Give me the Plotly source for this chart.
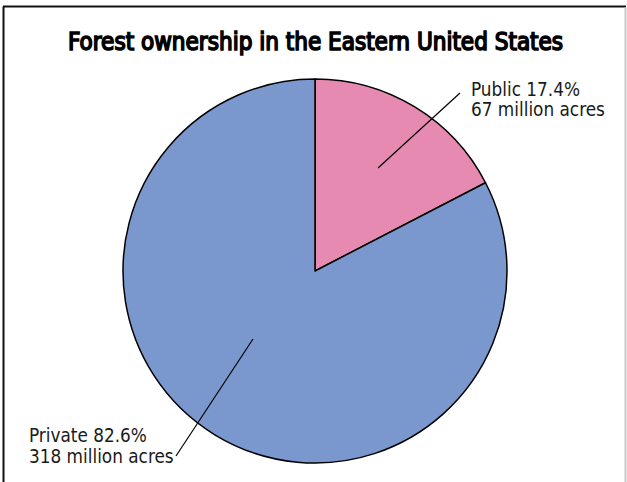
import plotly.graph_objects as go

W, H = 627, 482

categories = ["Public", "Private"]
percents = [17.4, 82.6]
acres_million = [67, 318]
colors = ["#E68AB1", "#7A98CE"]
title_text = "Forest ownership in the Eastern United States"

FONT = "DejaVu Sans"
COND = "font-stretch:condensed"


def px(x):
    return x / W


def py(y):
    return 1 - y / H


# pie geometry (pixels)
cx, cy, R = 315, 271, 192

fig = go.Figure(
    go.Pie(
        labels=categories,
        values=percents,
        sort=False,
        direction="clockwise",
        rotation=0,
        marker=dict(colors=colors, line=dict(color="#000000", width=1.5)),
        textinfo="none",
        hoverinfo="label+percent",
        showlegend=False,
        domain=dict(x=[px(cx - R), px(cx + R)], y=[py(cy + R), py(cy - R)]),
    )
)

# label placement (pixels): left x, centre y of each text line, leader line inner/outer points
label_pos = {
    "Public": dict(tx=469, ty=(89, 110), inner=(378, 168), outer=(460, 93)),
    "Private": dict(tx=27, ty=(435, 456), inner=(253, 339), outer=(176, 456)),
}

shapes = []
annotations = []
for cat, pct, ac in zip(categories, percents, acres_million):
    p = label_pos[cat]
    lines = [f"{cat} {pct}%", f"{ac} million acres"]
    for txt, yy in zip(lines, p["ty"]):
        annotations.append(
            dict(
                x=px(p["tx"]), y=py(yy), xref="paper", yref="paper",
                xanchor="left", yanchor="middle", align="left",
                text=f'<span style="{COND}">{txt}</span>', showarrow=False,
                font=dict(family=FONT, size=18.8, color="#1a1a1a"),
            )
        )
    (x0, y0), (x1, y1) = p["inner"], p["outer"]
    shapes.append(
        dict(type="line", xref="paper", yref="paper",
             x0=px(x0), y0=py(y0), x1=px(x1), y1=py(y1),
             line=dict(color="#000000", width=1.2))
    )

annotations.append(
    dict(
        x=px(315.5), y=py(41.5), xref="paper", yref="paper",
        xanchor="center", yanchor="middle",
        text=f'<span style="{COND};stroke:#000000;stroke-width:1.5px">{title_text}</span>',
        showarrow=False,
        font=dict(family=FONT, size=24, color="#000000"),
    )
)

# frame
shapes += [
    dict(type="line", xref="paper", yref="paper", x0=px(3.5), y0=py(6.5), x1=px(3.5), y1=-0.05,
         line=dict(color="#111111", width=2)),
    dict(type="line", xref="paper", yref="paper", x0=px(3), y0=py(6.5), x1=px(626), y1=py(6.5),
         line=dict(color="#111111", width=2)),
    dict(type="line", xref="paper", yref="paper", x0=px(625.5), y0=py(7.5), x1=px(625.5), y1=-0.05,
         line=dict(color="#c8c8c8", width=2)),
]

fig.update_layout(
    width=W, height=H,
    margin=dict(l=0, r=0, t=0, b=0),
    paper_bgcolor="white", plot_bgcolor="white",
    shapes=shapes, annotations=annotations,
)

fig.write_html("out.html")
